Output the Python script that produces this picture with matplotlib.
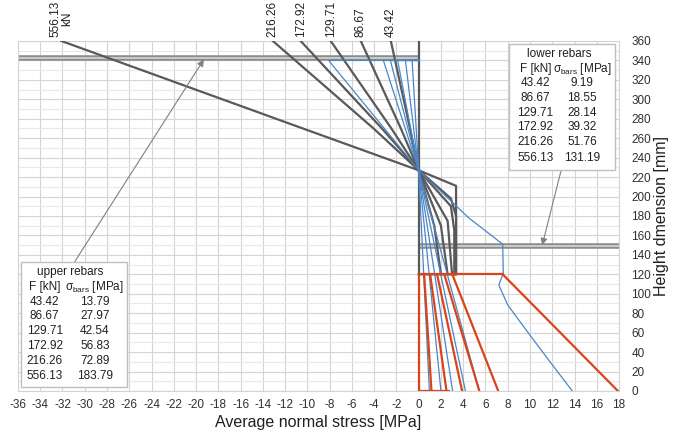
import matplotlib
matplotlib.use("Agg")
import numpy as np
import matplotlib.pyplot as plt
from matplotlib.patches import Rectangle

plt.rcParams['font.family'] = ['Liberation Sans', 'DejaVu Sans']
plt.rcParams['mathtext.fontset'] = 'custom'
plt.rcParams['mathtext.rm'] = 'Liberation Sans'
plt.rcParams['axes.unicode_minus'] = False

# =========================================================
# DATA  (stress in MPa on x, height in mm on y)
# =========================================================

loads = ["43.42", "86.67", "129.71", "172.92", "216.26", "556.13"]
sigma_upper = ["13.79", "27.97", "42.54", "56.83", "72.89", "183.79"]
sigma_lower = ["9.19", "18.55", "28.14", "39.32", "51.76", "131.19"]

# concrete, compressed part (grey), one row per load
conc_top_y = [360, 270, 227]
conc_top_x = [
    [-2.5, -0.78, 0],
    [-5.2, -1.6, 0],
    [-7.9, -2.45, 0],
    [-10.6, -3.3, 0],
    [-13.1, -4.05, 0],
    [-32.1, -10.4, 0],
]

# concrete, tensioned part (grey)
conc_bot_x = [
    [0, 1.4, 2.0],
    [0, 2.0, 2.6],
    [0, 2.6, 3.0],
    [0, 2.9, 3.2, 3.2],
    [0, 2.9, 3.36, 3.36],
    [0, 3.36, 3.36, 0],
]
conc_bot_y = [
    [227, 170, 120],
    [227, 170, 120],
    [227, 175, 120],
    [227, 190, 165, 120],
    [227, 198, 180, 120],
    [227, 211, 120, 120],
]

# averaged stress (blue)
avg_top_x = [-0.59, -1.19, -1.89, -2.54, -3.17, -8.09]
avg_bot_x = [0.96, 2.0, 3.05, 4.2, 5.45]
avg_max_x = [0, 4.5, 7.55, 7.6, 7.2, 8.0, 9.65, 11.45, 13.8]
avg_max_y = [227, 178, 151, 121, 109, 88.5, 62.8, 35.3, 0]

# effective tension area (red)
red_top_x = [0.49, 1.03, 1.65, 2.3, 3.02, 7.55]
red_bot_x = [1.15, 2.5, 3.9, 5.45, 7.15, 17.9]
red_frame_x = [7.55, 0, 0, 2.7]
red_frame_y = [120, 120, 0, 0]

y_bar_up = 342
y_bar_low = 149
y_pivot = 227
y_blue_top = 340

GREY = "#595959"
BLUE = "#4a86c6"
RED = "#d9441c"

# =========================================================
# PLOT
# =========================================================

fig = plt.figure(figsize=(6.73, 4.37), dpi=100)
ax = fig.add_axes([0.0267, 0.1053, 0.8931, 0.8009])

ax.set_xlim(-36, 18)
ax.set_ylim(0, 360)
ax.set_xticks(np.arange(-36, 19, 2))
ax.set_yticks(np.arange(0, 361, 20))
ax.set_yticks(np.arange(0, 361, 10), minor=True)
ax.grid(which="major", color="#d4d4d4", lw=0.8, zorder=0)
ax.grid(which="minor", axis="y", color="#e8e8e8", lw=0.8, zorder=0)
ax.set_axisbelow(True)
for s in ax.spines.values():
    s.set_color("#d4d4d4")
    s.set_linewidth(0.8)

ax.yaxis.tick_right()
ax.yaxis.set_label_position("right")
ax.tick_params(which="both", length=0, labelsize=8.5, colors="#303030")
ax.tick_params(axis="x", pad=6)
ax.tick_params(axis="y", pad=9)

ax.set_xlabel("Average normal stress [MPa]", fontsize=11.5, color="#202020", labelpad=3)
ax.set_ylabel("Height dmension [mm]", fontsize=11.5, color="#202020", labelpad=2)

# rebar levels (double grey lines)
for xs, yb in [((-36, 0), y_bar_up), ((0, 18), y_bar_low)]:
    ax.plot(xs, [yb, yb], color="#8c8c8c", lw=4, zorder=2, solid_capstyle="butt")
    ax.plot(xs, [yb, yb], color="#d0d0d0", lw=1.3, zorder=2, solid_capstyle="butt")

# grey concrete stress
ax.plot([0, 0], [120, 360], color=GREY, lw=1.6, zorder=3)
for xs in conc_top_x:
    ax.plot(xs, conc_top_y, color=GREY, lw=1.6, zorder=3)
for xs, ys in zip(conc_bot_x, conc_bot_y):
    ax.plot(xs, ys, color=GREY, lw=1.6, zorder=3)

# blue averaged stress
for xt in avg_top_x:
    ax.plot([0, xt, 0], [y_blue_top, y_blue_top, y_pivot], color=BLUE, lw=0.9, zorder=4)
for xb in avg_bot_x:
    ax.plot([0, xb], [y_pivot, 0], color=BLUE, lw=0.9, zorder=4)
ax.plot(avg_max_x, avg_max_y, color=BLUE, lw=0.9, zorder=4)

# red lines
ax.plot(red_frame_x, red_frame_y, color=RED, lw=1.6, zorder=5)
for xt, xb in zip(red_top_x, red_bot_x):
    ax.plot([xt, xb], [120, 0], color=RED, lw=1.6, zorder=5)

# load labels above the plot
for lab, xs in zip(loads, conc_top_x):
    txt = lab + "\nkN" if lab == "556.13" else lab
    ax.text(xs[0], 364, txt, rotation=90, ha="center", va="bottom",
            fontsize=8.5, color="#202020", linespacing=0.9, clip_on=False)

# tables
def table(x0, x1, y0, y1, title, sig, ytitle, yhead, rows, xc1, xc2):
    ax.add_patch(Rectangle((x0, y0), x1 - x0, y1 - y0, facecolor="white",
                           edgecolor="#bfbfbf", lw=1, zorder=7))
    ax.text((xc1 + xc2) / 2, ytitle, title, ha="center", va="center", fontsize=8.5,
            color="#202020", zorder=8)
    ax.text(xc1, yhead, "F [kN]", ha="center", va="center", fontsize=8.5,
            color="#202020", zorder=8)
    ax.text(xc2, yhead, r"σ$_{\rm bars}$ [MPa]", ha="center", va="center",
            fontsize=8.5, color="#202020", zorder=8)
    for f, s, yr in zip(loads, sig, rows):
        ax.text(xc1, yr, f, ha="center", va="center", fontsize=8.5, color="#202020", zorder=8)
        ax.text(xc2, yr, s, ha="center", va="center", fontsize=8.5, color="#202020", zorder=8)

table(-35.7, -26.2, 3.8, 133, "upper rebars", sigma_upper, 122.7, 107.3,
      [91.9, 77.2, 61.7, 46.3, 30.9, 15.4], -33.6, -29.1)
table(8.15, 17.6, 227, 357, "lower rebars", sigma_lower, 346.7, 331,
      [317.2, 301.1, 285.7, 271.3, 255.9, 240], 10.5, 14.7)

# arrows from tables to rebar lines
arrow = dict(arrowstyle="-|>", color="#808080", lw=0.8, mutation_scale=10,
             shrinkA=0, shrinkB=0)
ax.annotate("", xy=(-19.3, y_bar_up - 1), xytext=(-30.9, 133), arrowprops=arrow, zorder=6)
ax.annotate("", xy=(11.1, y_bar_low + 1), xytext=(12.8, 227), arrowprops=arrow, zorder=6)

fig.savefig("out.png", dpi=100)
plt.close(fig)
